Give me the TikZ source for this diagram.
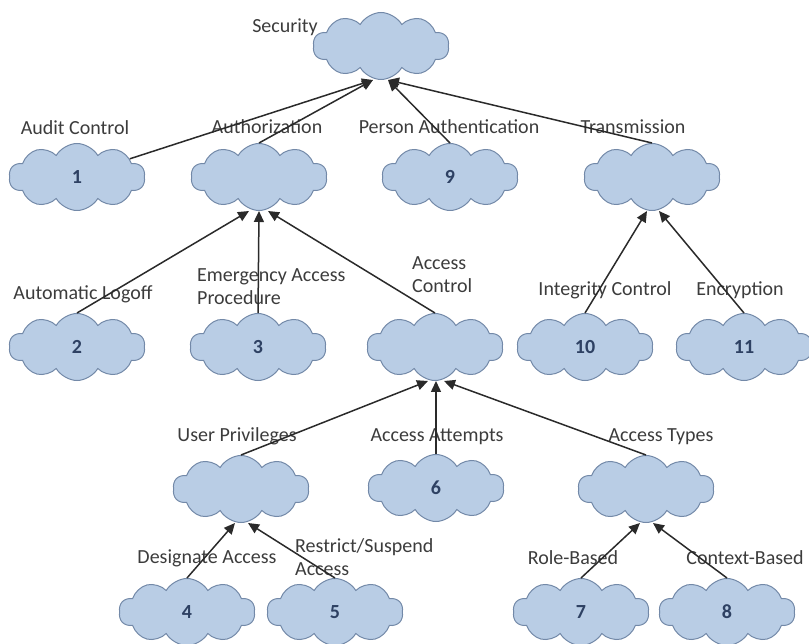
\documentclass[tikz,border=0pt]{standalone}
\usepackage{fontspec}
\setmainfont{Carlito}
\usetikzlibrary{shapes.symbols,arrows.meta}
\definecolor{cloudfill}{HTML}{B9CDE5}
\definecolor{cloudline}{HTML}{7389A8}
\definecolor{numcol}{HTML}{2E4163}
\definecolor{labcol}{HTML}{3C3C3C}
\definecolor{edgecol}{HTML}{2A2A2A}
\tikzset{
  cl/.style={cloud, cloud puffs=10, cloud puff arc=120, cloud ignores aspect,
    minimum width=136pt, minimum height=67pt, draw=cloudline, fill=cloudfill,
    line width=1pt, inner sep=0pt, font=\fontsize{20}{22}\selectfont\bfseries, text=numcol},
  lab/.style={font=\fontsize{20}{23}\selectfont, text=labcol, inner sep=0pt},
  edge/.style={draw=edgecol, line width=1.5pt, -{Triangle[length=11pt,width=10pt]}}
}
\begin{document}
\begin{tikzpicture}[x=1pt,y=-1pt]
\useasboundingbox (0,0) rectangle (809,644);
% clouds
\node[cl] (sec) at (381,46) {};
\node[cl] (c1) at (77,177) {1};
\node[cl] (auth) at (259,177) {};
\node[cl] (c9) at (450,177) {9};
\node[cl] (trans) at (652,177) {};
\node[cl] (c2) at (77,347) {2};
\node[cl] (c3) at (258,347) {3};
\node[cl] (ac) at (435,347) {};
\node[cl] (c10) at (585,347) {10};
\node[cl] (c11) at (744,347) {11};
\node[cl] (up) at (241,489) {};
\node[cl] (c6) at (436,488) {6};
\node[cl] (at) at (646,489) {};
\node[cl] (c4) at (187,612) {4};
\node[cl] (c5) at (335,612) {5};
\node[cl] (c7) at (581,612) {7};
\node[cl] (c8) at (727,612) {8};
% labels
\node[lab] (lsec) at (285,27) {Security};
\node[lab] (l1) at (75,128) {Audit Control};
\node[lab] (lauth) at (267,127) {Authorization};
\node[lab] (l9) at (449,127) {Person Authentication};
\node[lab] (ltrans) at (633,127) {Transmission};
\node[lab] (l2) at (83,294) {Automatic Logoff};
\node[lab, align=left, anchor=west] (l3) at (197,287) {Emergency Access\\Procedure};
\node[lab, align=left, anchor=west] (lac) at (412,275) {Access\\Control};
\node[lab] (l10) at (605,290) {Integrity Control};
\node[lab] (l11) at (740,290) {Encryption};
\node[lab] (lup) at (237,436) {User Privileges};
\node[lab] (l6) at (437,437) {Access Attempts};
\node[lab] (lat) at (661,437) {Access Types};
\node[lab] (l4) at (207,558) {Designate Access};
\node[lab, align=left, anchor=west] (l5) at (295,557) {Restrict/Suspend\\Access};
\node[lab] (l7) at (573,558) {Role-Based};
\node[lab] (l8) at (745,558) {Context-Based};
% edges
\draw[edge] (c1.19) -- ([xshift=-8pt]sec.south);
\draw[edge] (auth.north) -- ([xshift=-8pt]sec.south);
\draw[edge] (c9.north) -- ([xshift=7pt]sec.south);
\draw[edge] (trans.north) -- ([xshift=7pt]sec.south);
\draw[edge] (c2.north) -- ([xshift=-10pt]auth.south);
\draw[edge] (c3.north) -- (auth.south);
\draw[edge] (ac.north) -- ([xshift=9pt]auth.south);
\draw[edge] (c10.north) -- ([xshift=-5pt]trans.south);
\draw[edge] (c11.north) -- ([xshift=7pt]trans.south);
\draw[edge] (up.north) -- ([xshift=-7pt]ac.south);
\draw[edge] (c6.north) -- ([xshift=1pt]ac.south);
\draw[edge] (at.north) -- ([xshift=9pt]ac.south);
\draw[edge] (c4.north) -- ([xshift=-6pt]up.south);
\draw[edge] (c5.north) -- ([xshift=7pt]up.south);
\draw[edge] (c7.north) -- ([xshift=-6pt]at.south);
\draw[edge] (c8.north) -- ([xshift=7pt]at.south);
\end{tikzpicture}
\end{document}
